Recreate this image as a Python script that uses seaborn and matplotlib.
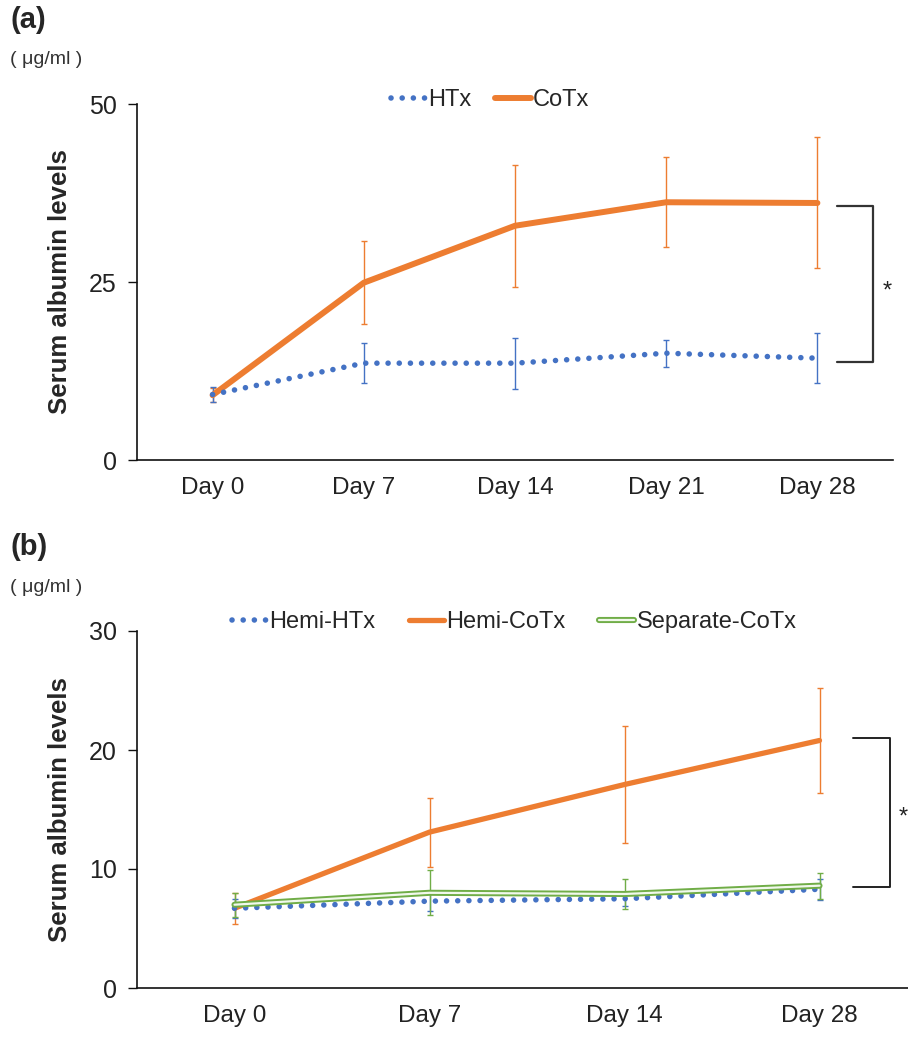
import numpy as np
import pandas as pd
import matplotlib
matplotlib.use("Agg")
import matplotlib.pyplot as plt
from matplotlib.lines import Line2D
import matplotlib.patheffects as pe
import seaborn as sns

# ---------------- data ----------------
days_a = ["Day 0", "Day 7", "Day 14", "Day 21", "Day 28"]
htx_mean = [9.2, 13.6, 13.6, 15.0, 14.3]
htx_err = [1.0, 2.8, 3.6, 1.9, 3.5]
cotx_mean = [9.1, 24.9, 32.9, 36.2, 36.1]
cotx_err = [1.0, 5.8, 8.6, 6.3, 9.2]

days_b = ["Day 0", "Day 7", "Day 14", "Day 28"]
hemi_htx_mean = [6.7, 7.3, 7.5, 8.3]
hemi_htx_err = [0.8, 0.8, 0.6, 0.9]
hemi_cotx_mean = [6.7, 13.1, 17.1, 20.8]
hemi_cotx_err = [1.3, 2.9, 4.95, 4.4]
sep_cotx_mean = [7.0, 8.0, 7.9, 8.6]
sep_cotx_err = [1.0, 1.9, 1.3, 1.1]

yticks_a = [0, 25, 50]
yticks_b = [0, 10, 20, 30]

BLUE = "#4472C4"
ORANGE = "#ED7D31"
GREEN = "#70AD47"
GREEN_IN = "#F1F8EC"

sns.set_theme(style="white")
plt.rcParams["font.family"] = ["Liberation Sans", "DejaVu Sans"]

fig = plt.figure(figsize=(9.08, 10.38), dpi=100)
ax_a = fig.add_axes([137/908, 1-460/1038, 756/908, 356/1038])
ax_b = fig.add_axes([137/908, 1-988/1038, 780/908, 357/1038])

DOT = (0, (0.01, 2.0))
DOT_LW = 4.0
GREEN_PE = [pe.Stroke(linewidth=4.4, foreground=GREEN), pe.Normal()]


def style_axis(ax, yticks, ylim, labels):
    ax.set_ylim(*ylim)
    ax.set_xlim(-0.5, len(labels) - 0.5)
    ax.set_yticks(yticks)
    ax.set_yticklabels([str(t) for t in yticks], family=["Liberation Sans Narrow", "Liberation Sans"],
                       fontsize=18, color="#222222")
    ax.set_xticks(range(len(labels)))
    ax.set_xticklabels(labels, fontsize=17.5, color="#222222")
    for s in ["top", "right"]:
        ax.spines[s].set_visible(False)
    for s in ["left", "bottom"]:
        ax.spines[s].set_color("#111111")
        ax.spines[s].set_linewidth(1.2)
    ax.tick_params(axis="y", which="major", direction="out", length=6.5, width=1.0,
                   color="#111111", pad=8, left=True)
    ax.tick_params(axis="x", length=0, pad=12)
    ax.set_xlabel("")
    ax.set_ylabel("Serum albumin levels", fontsize=18.5, fontweight="bold", labelpad=12)
    ax.grid(False)


EB = dict(fmt="none", elinewidth=1.0, capsize=2.5, capthick=1.0, zorder=2)

# ---------------- panel (a) ----------------
xa = np.arange(len(days_a))
ax_a.errorbar(xa, cotx_mean, yerr=cotx_err, ecolor=ORANGE, **EB)
ax_a.errorbar(xa, htx_mean, yerr=htx_err, ecolor=BLUE, **EB)
df_a = pd.DataFrame({"day": days_a, "HTx": htx_mean, "CoTx": cotx_mean})
sns.lineplot(data=df_a, x="day", y="CoTx", ax=ax_a, color=ORANGE, linewidth=4.3,
             sort=False, zorder=3, solid_capstyle="round")
sns.lineplot(data=df_a, x="day", y="HTx", ax=ax_a, color=BLUE, linewidth=DOT_LW,
             linestyle=DOT, dash_capstyle="round", sort=False, zorder=4)
style_axis(ax_a, yticks_a, (0, 50), days_a)

h_htx = Line2D([], [], color=BLUE, lw=DOT_LW, linestyle=DOT, dash_capstyle="round")
h_cotx = Line2D([], [], color=ORANGE, lw=4.3)
fig.legend([h_htx, h_cotx], ["HTx", "CoTx"], loc="center", bbox_to_anchor=(490/908, 1-100/1038),
           ncol=2, frameon=False, fontsize=17, handlelength=1.5, handletextpad=0.1,
           columnspacing=1.0)

# bracket (a)
ax_a.plot([4.13, 4.37, 4.37, 4.13], [cotx_mean[-1] - 0.4, cotx_mean[-1] - 0.4,
                                    htx_mean[-1] - 0.6, htx_mean[-1] - 0.6],
          color="#333333", lw=1.6, clip_on=False)
fig.text(887/908, 1-292/1038, "*", fontsize=17, ha="center", va="center", color="#222222")

# ---------------- panel (b) ----------------
xb = np.arange(len(days_b))
ax_b.errorbar(xb, hemi_cotx_mean, yerr=hemi_cotx_err, ecolor=ORANGE, **EB)
ax_b.errorbar(xb, hemi_htx_mean, yerr=hemi_htx_err, ecolor=BLUE, **EB)
ax_b.errorbar(xb, sep_cotx_mean, yerr=sep_cotx_err, ecolor=GREEN, **EB)
df_b = pd.DataFrame({"day": days_b, "Hemi-HTx": hemi_htx_mean, "Hemi-CoTx": hemi_cotx_mean,
                     "Separate-CoTx": sep_cotx_mean})
sns.lineplot(data=df_b, x="day", y="Hemi-CoTx", ax=ax_b, color=ORANGE, linewidth=3.8,
             sort=False, zorder=3, solid_capstyle="round")
sns.lineplot(data=df_b, x="day", y="Hemi-HTx", ax=ax_b, color=BLUE, linewidth=DOT_LW,
             linestyle=DOT, dash_capstyle="round", sort=False, zorder=4)
sns.lineplot(data=df_b, x="day", y="Separate-CoTx", ax=ax_b, color=GREEN_IN, linewidth=1.6,
             sort=False, zorder=5, path_effects=GREEN_PE)
style_axis(ax_b, yticks_b, (0, 30), days_b)

h_hhtx = Line2D([], [], color=BLUE, lw=DOT_LW, linestyle=DOT, dash_capstyle="round")
h_hcotx = Line2D([], [], color=ORANGE, lw=3.8)
h_sep = Line2D([], [], color=GREEN_IN, lw=1.6, path_effects=GREEN_PE)
fig.legend([h_hhtx, h_hcotx, h_sep], ["Hemi-HTx", "Hemi-CoTx", "Separate-CoTx"],
           loc="center", bbox_to_anchor=(514/908, 1-622/1038), ncol=3, frameon=False,
           fontsize=17, handlelength=1.5, handletextpad=0.1, columnspacing=1.4)

# bracket (b)
ax_b.plot([3.17, 3.36, 3.36, 3.17], [hemi_cotx_mean[-1] + 0.2, hemi_cotx_mean[-1] + 0.2,
                                    sep_cotx_mean[-1] - 0.1, sep_cotx_mean[-1] - 0.1],
          color="#222222", lw=1.4, clip_on=False)
fig.text(899/908, 1-818/1038, "*", fontsize=17, ha="left", va="center", color="#222222")

# panel labels and units
fig.text(10/908, 1-20/1038, "(a)", fontsize=21, fontweight="bold", ha="left", va="center")
fig.text(10/908, 1-60/1038, "( μg/ml )", fontsize=14, ha="left", va="center", color="#333333")
fig.text(10/908, 1-547/1038, "(b)", fontsize=21, fontweight="bold", ha="left", va="center")
fig.text(10/908, 1-588/1038, "( μg/ml )", fontsize=14, ha="left", va="center", color="#333333")

fig.savefig("out.png", dpi=100)
